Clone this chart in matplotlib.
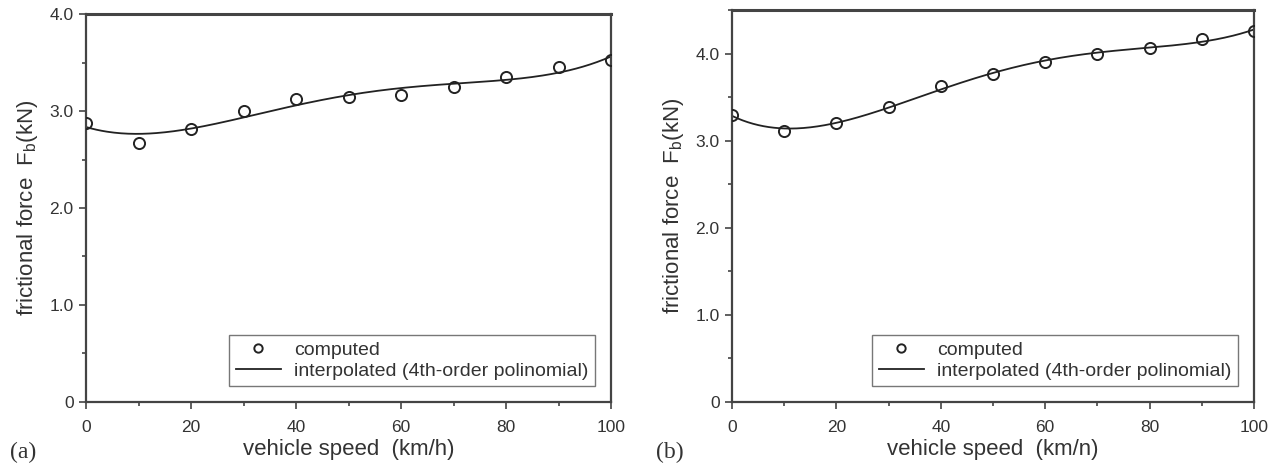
import numpy as np
import matplotlib
matplotlib.use("Agg")
import matplotlib.pyplot as plt
from matplotlib.ticker import MultipleLocator, FixedLocator, FixedFormatter

plt.rcParams['font.family'] = ['Liberation Sans', 'DejaVu Sans']

# --- DATA ---
speed = [0, 10, 20, 30, 40, 50, 60, 70, 80, 90, 100]
force_a = [2.88, 2.67, 2.81, 3.00, 3.12, 3.14, 3.17, 3.25, 3.35, 3.45, 3.53]
force_b = [3.30, 3.11, 3.20, 3.39, 3.63, 3.76, 3.90, 4.00, 4.065, 4.17, 4.26]
xlabels = ["vehicle speed  (km/h)", "vehicle speed  (km/n)"]
panel_tags = ["(a)", "(b)"]
ymax = [4.0, 4.5]

text_col = '#333333'
fig = plt.figure(figsize=(12.82, 4.67), dpi=100)
ax_a = fig.add_axes([0.0671, 0.1392, 0.4095, 0.8308])
ax_b = fig.add_axes([0.5710, 0.1392, 0.4072, 0.8394])

for ax, force, xl, tag, ym in zip([ax_a, ax_b], [force_a, force_b], xlabels, panel_tags, ymax):
    # 4th-order polynomial through the computed points
    coef = np.polyfit(speed, force, 4)
    xs = np.linspace(0, 100, 300)
    ax.plot(xs, np.polyval(coef, xs), color='#222222', lw=1.3,
            label='interpolated (4th-order polinomial)', zorder=2)
    ax.plot(speed, force, 'o', mfc='none', mec='#222222', ms=8, mew=1.4,
            label='computed', zorder=3)

    ax.set_xlim(0, 100)
    ax.set_ylim(0, ym)
    ax.xaxis.set_major_locator(MultipleLocator(20))
    ax.xaxis.set_minor_locator(MultipleLocator(10))
    ax.yaxis.set_major_locator(FixedLocator([0, 1, 2, 3, 4]))
    ax.yaxis.set_major_formatter(FixedFormatter(['0', '1.0', '2.0', '3.0', '4.0']))
    ax.yaxis.set_minor_locator(MultipleLocator(0.5))
    ax.tick_params(which='both', direction='out', colors='#444444',
                   labelcolor=text_col, labelsize=12.5, width=1.2, pad=4)
    ax.tick_params(axis='x', which='major', pad=8)
    ax.tick_params(which='major', length=5)
    ax.tick_params(which='minor', length=3)
    for s in ax.spines.values():
        s.set_color('#444444')
        s.set_linewidth(1.6)
    ax.spines['top'].set_linewidth(2.2)

    ax.set_xlabel(xl, fontsize=16, color=text_col, labelpad=3)
    ax.set_ylabel(r'frictional force  $\mathregular{F_b}$(kN)', fontsize=16,
                  color=text_col, labelpad=7)

    h, l = ax.get_legend_handles_labels()
    leg = ax.legend(h[::-1], l[::-1], loc='lower right', fontsize=14,
                    frameon=True, fancybox=False, edgecolor='#555555',
                    borderaxespad=0.8, handlelength=2.3, handletextpad=0.7,
                    labelspacing=0.15, borderpad=0.35, markerscale=0.75)
    leg.get_frame().set_linewidth(1.0)
    for t in leg.get_texts():
        t.set_color(text_col)

    bb = ax.get_position()
    fig.text(bb.x0 - 0.059, 0.032, tag, family=['Liberation Serif', 'DejaVu Serif'],
             fontsize=17, color=text_col, ha='left', va='center')

fig.savefig('out.png', dpi=100)
